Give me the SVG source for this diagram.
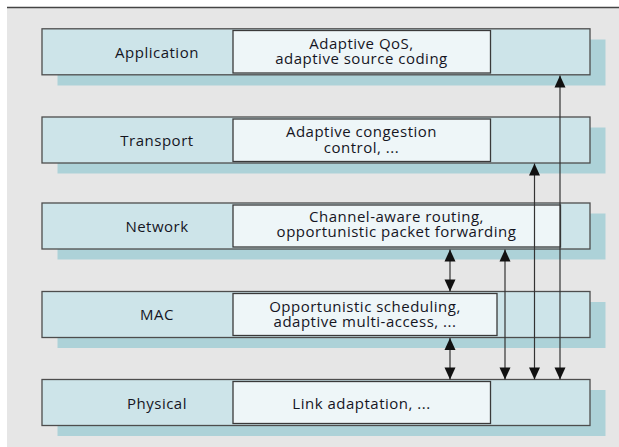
<svg xmlns="http://www.w3.org/2000/svg" width="619" height="447" viewBox="0 0 619 447">
<style>
.bg{fill:#e6e6e6}
.shadow{fill:#add2d8}
.box{fill:#cde4e9;stroke:#4d4d4d;stroke-width:1.3}
.inner{fill:#eef6f8;stroke:#3a3a3a;stroke-width:1.3}
text{font-family:"Open Sans","DejaVu Sans",sans-serif;font-size:15px;fill:#15151f;text-anchor:middle;letter-spacing:0.5px}
.conn line{stroke:#333;stroke-width:1.2}
</style>
<defs>
<marker id="ah" markerUnits="userSpaceOnUse" markerWidth="14" markerHeight="14" viewBox="0 0 14 14" refX="13" refY="7" orient="auto-start-reverse">
<path d="M1,1.5 L13,7 L1,12.5 Z" fill="#111"/>
</marker>
</defs>
<rect class="bg" x="7" y="7" width="612" height="440"/>
<line x1="7" y1="7.5" x2="619" y2="7.5" stroke="#444" stroke-width="1.5"/>

<g id="application">
<rect class="shadow" x="57.5" y="39.5" width="548" height="46"/>
<rect class="box" x="42" y="28.8" width="548" height="46"/>
<rect class="inner" x="233" y="30.5" width="257.5" height="42.5"/>
<text x="157" y="57.5">Application</text>
<text x="361.5" y="48.5">Adaptive QoS,<tspan x="361.5" dy="15.5">adaptive source coding</tspan></text>
</g>

<g id="transport">
<rect class="shadow" x="57.5" y="127.5" width="548" height="46"/>
<rect class="box" x="42" y="117" width="548" height="46"/>
<rect class="inner" x="233" y="119" width="257.5" height="42.5"/>
<text x="157" y="145.5">Transport</text>
<text x="361.5" y="137">Adaptive congestion<tspan x="361.5" dy="15.5">control, ...</tspan></text>
</g>

<g id="network">
<rect class="shadow" x="57.5" y="213.5" width="548" height="46"/>
<rect class="box" x="42" y="203" width="548" height="46"/>
<rect class="inner" x="233" y="205" width="327.5" height="42"/>
<text x="157" y="231.5">Network</text>
<text x="396.5" y="221.5">Channel-aware routing,<tspan x="396.5" dy="15.5">opportunistic packet forwarding</tspan></text>
</g>

<g id="mac">
<rect class="shadow" x="57.5" y="302" width="548" height="46"/>
<rect class="box" x="42" y="291.5" width="548" height="46"/>
<rect class="inner" x="233" y="293.5" width="264" height="42"/>
<text x="157" y="320">MAC</text>
<text x="365" y="311.5">Opportunistic scheduling,<tspan x="365" dy="15.5">adaptive multi-access, ...</tspan></text>
</g>

<g id="physical">
<rect class="shadow" x="57.5" y="390" width="548" height="46"/>
<rect class="box" x="42" y="379.5" width="548" height="46"/>
<rect class="inner" x="233" y="381.5" width="257.5" height="42"/>
<text x="157" y="409">Physical</text>
<text x="361.5" y="409">Link adaptation, ...</text>
</g>

<g id="connectors" class="conn">
<line x1="450" y1="249.5" x2="450" y2="291.5" marker-start="url(#ah)" marker-end="url(#ah)"/>
<line x1="450" y1="338" x2="450" y2="379.5" marker-start="url(#ah)" marker-end="url(#ah)"/>
<line x1="505" y1="249.5" x2="505" y2="379.5" marker-start="url(#ah)" marker-end="url(#ah)"/>
<line x1="534.5" y1="163.5" x2="534.5" y2="379.5" marker-start="url(#ah)" marker-end="url(#ah)"/>
<line x1="560" y1="75.5" x2="560" y2="379.5" marker-start="url(#ah)" marker-end="url(#ah)"/>
</g>
</svg>
